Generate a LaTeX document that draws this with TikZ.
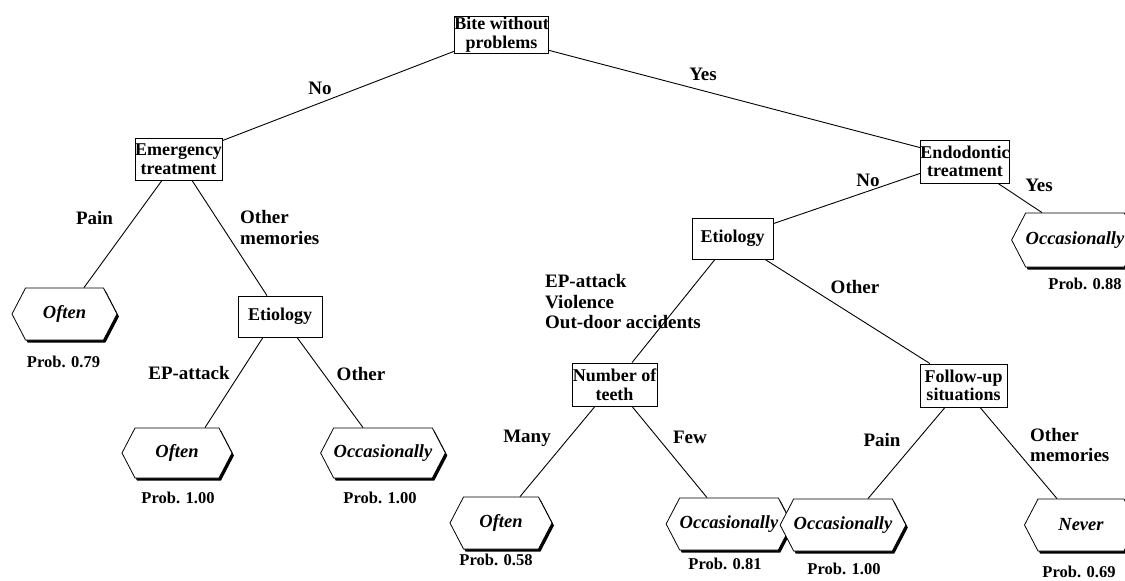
\documentclass[tikz,border=0pt]{standalone}
\usepackage{fontspec}
\setmainfont{Liberation Serif}
\usetikzlibrary{shapes.symbols,shadows,calc}
\tikzset{
  box/.style 2 args={draw, line width=0.8pt, fill=white, inner sep=0pt, align=center,
    minimum width=#1, minimum height=#2, font=\fontsize{18}{18.5}\selectfont\bfseries},
  leaf/.style={signal, signal to=west and east, signal pointer angle=125, draw,
    line width=0.8pt, fill=white, inner sep=0pt, minimum height=52pt, minimum width=#1,
    font=\fontsize{18.5}{20}\selectfont\bfseries\itshape,
    general shadow={shadow xshift=2pt, shadow yshift=-2.5pt, fill=black}},
  lbl/.style={font=\fontsize{19}{20.5}\selectfont\bfseries, inner sep=0pt, align=left},
  prob/.style={font=\fontsize{16.5}{18}\selectfont\bfseries, inner sep=0pt},
  conn/.style={line width=0.9pt}
}
\begin{document}
\begin{tikzpicture}[x=1pt,y=-1pt]
\useasboundingbox[fill=white] (0,0) rectangle (1125,581);
% boxes
\node[box={93pt}{37pt}] (root) at (501.5,34.5) {Bite without\\problems};
\node[box={83pt}{42pt}] (emerg) at (178.5,159) {Emergency\\treatment};
\node[box={88pt}{43pt}] (endo) at (965,161.5) {Endodontic\\treatment};
\node[box={81pt}{41pt}] (etioR) at (732.5,238.5) {Etiology};
\node[box={84pt}{41pt}] (etioL) at (280,316.5) {Etiology};
\node[box={85pt}{43pt}] (teeth) at (614.5,384.5) {Number of\\teeth};
\node[box={87pt}{43pt}] (follow) at (963.5,385.5) {Follow-up\\situations};
% leaves
\node[leaf=105pt] (lA) at (64.5,314) {Often};
\node[leaf=110pt, minimum height=50pt] (lB) at (177,453) {Often};
\node[leaf=110pt, minimum height=50pt] (lC) at (383,453) {Occasionally};
\node[leaf=102pt] (lD) at (501,523) {Often};
\node[leaf=108pt] (lE) at (729,524) {Occasionally};
\node[leaf=113pt] (lF) at (843,525) {Occasionally};
\node[leaf=113pt] (lG) at (1081,525) {Never};
\node[leaf=116pt, minimum height=54pt] (lH) at (1075,240) {Occasionally};
% connectors
\draw[conn] ($(root.south west)+(0,-2)$) -- ($(emerg.north east)+(0,3)$);
\draw[conn] ($(root.south east)+(0,-3)$) -- ($(endo.north west)+(0,8)$);
\draw[conn] ($(emerg.south)+(-16.5,0)$) -- ($(lA.north)+(19.5,0)$);
\draw[conn] ($(emerg.south)+(13.5,0)$) -- ($(etioL.north)+(-13,0)$);
\draw[conn] ($(etioL.south)+(-17,0)$) -- ($(lB.north)+(28,0)$);
\draw[conn] ($(etioL.south)+(17,0)$) -- ($(lC.north)+(-20,0)$);
\draw[conn] ($(endo.south west)+(0,-10)$) -- ($(etioR.north east)+(0,6)$);
\draw[conn] ($(endo.south)+(33,0)$) -- ($(lH.north)+(-33,0)$);
\draw[conn] ($(etioR.south)+(-17.5,0)$) -- ($(teeth.north)+(17.5,0)$);
\draw[conn] ($(etioR.south)+(32.5,0)$) -- ($(follow.north)+(-33.5,0)$);
\draw[conn] ($(teeth.south)+(-19.5,0)$) -- ($(lD.north)+(19,0)$);
\draw[conn] ($(teeth.south)+(17.5,0)$) -- ($(lE.north)+(-22,0)$);
\draw[conn] ($(follow.south)+(-18.5,0)$) -- ($(lF.north)+(25,0)$);
\draw[conn] ($(follow.south)+(16.5,0)$) -- ($(lG.north)+(-24,0)$);
% edge labels
\node[lbl] (tNo1) at (320,88) {No};
\node[lbl] (tYes1) at (703,74) {Yes};
\node[lbl] (tPain1) at (94.5,218) {Pain};
\node[lbl, anchor=west] (tOM1) at (240,227.5) {Other\\memories};
\node[lbl] (tNo2) at (868,180) {No};
\node[lbl] (tYes2) at (1039,185) {Yes};
\node[lbl, anchor=west] (tEP) at (545,302) {EP-attack\\Violence\\Out-door accidents};
\node[lbl] (tOther2) at (855,287) {Other};
\node[lbl] (tEP2) at (189,373) {EP-attack};
\node[lbl] (tOther3) at (361,374) {Other};
\node[lbl] (tMany) at (527,438) {Many};
\node[lbl] (tFew) at (690,437) {Few};
\node[lbl] (tPain2) at (882,440) {Pain};
\node[lbl, anchor=west] (tOM2) at (1030,445) {Other\\memories};
% probabilities
\node[prob] (p79) at (63.5,362) {Prob. 0.79};
\node[prob] (p100a) at (178,498) {Prob. 1.00};
\node[prob] (p100b) at (380,498) {Prob. 1.00};
\node[prob] (p58) at (496,560) {Prob. 0.58};
\node[prob] (p81) at (725,564) {Prob. 0.81};
\node[prob] (p100c) at (844,569) {Prob. 1.00};
\node[prob] (p69) at (1079,572) {Prob. 0.69};
\node[prob] (p88) at (1085,284) {Prob. 0.88};
\end{tikzpicture}
\end{document}
